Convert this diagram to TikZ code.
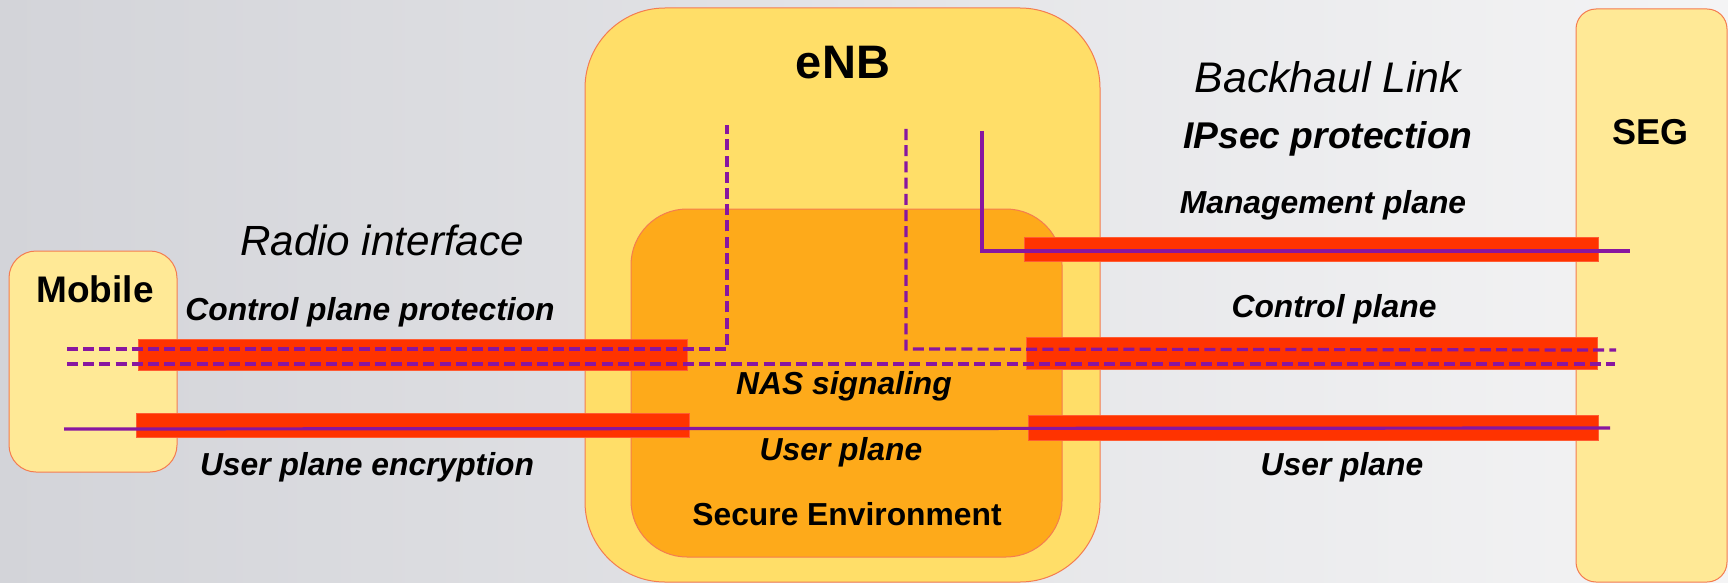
\documentclass[tikz,border=0pt]{standalone}
\usepackage{fontspec}
\setmainfont{Liberation Sans}
\usetikzlibrary{fit}
\definecolor{bgL}{RGB}{211,212,217}
\definecolor{bgR}{RGB}{244,244,245}
\definecolor{enbfill}{RGB}{255,222,104}
\definecolor{secfill}{RGB}{254,170,26}
\definecolor{endfill}{RGB}{255,233,150}
\definecolor{edgeorange}{RGB}{244,124,80}
\definecolor{barred}{RGB}{255,51,0}
\definecolor{sigpurple}{RGB}{136,22,160}
\tikzset{
  boxshape/.style={draw=edgeorange, line width=0.5pt, inner sep=0pt, outer sep=0pt},
  barshape/.style={fill=barred, draw=barred!80!white, line width=0.3pt, inner sep=0pt, outer sep=0pt},
  pline/.style={draw=sigpurple, line width=1.6pt},
  pdash/.style={draw=sigpurple, line width=1.6pt, dash pattern=on 5.5pt off 2.6pt},
  lbl/.style={font=\fontsize{15.9}{19}\selectfont\bfseries\itshape, inner sep=0pt},
}
\begin{document}
\begin{tikzpicture}[x=0.5pt,y=-0.5pt]
\useasboundingbox (0,0) rectangle (1728,583);
\shade[left color=bgL,right color=bgR] (0,0) rectangle (1728,583);

% boxes
\node[boxshape, fill=enbfill, rounded corners=40pt, fit={(585,8) (1100,582)}] (enb) {};
\node[boxshape, fill=secfill, rounded corners=28pt, fit={(631,209) (1062,557)}] (sec) {};
\node[boxshape, fill=endfill, rounded corners=13.5pt, fit={(9,251) (177,472)}] (mobile) {};
\node[boxshape, fill=endfill, rounded corners=10pt, fit={(1576,9) (1727,582)}] (seg) {};

% red protection bars
\node[barshape, fit={(138,339) (687,370)}] (lcbar) {};
\node[barshape, fit={(136,413) (689,437)}] (lubar) {};
\node[barshape, fit={(1024,237) (1598,261)}] (rmbar) {};
\node[barshape, fit={(1026,337) (1597,369)}] (rcbar) {};
\node[barshape, fit={(1028,415) (1598,440)}] (rubar) {};

% signal path points
\coordinate (c1a) at (67,349);
\coordinate (c1b) at (727,349);
\coordinate (c1c) at (727,125);
\coordinate (c2a) at (67,364);
\coordinate (c2b) at (1615,364);
\coordinate (c3a) at (906,129);
\coordinate (c3b) at (906,349);
\coordinate (c3c) at (1616,350);
\coordinate (m1) at (982,131);
\coordinate (m2) at (982,251);
\coordinate (m3) at (1630,251);
\coordinate (u1) at (64,429);
\coordinate (u2) at (1610,428);

\draw[pdash] (c1a) -- (c1b) -- (c1c);
\draw[pdash] (c2a) -- (c2b);
\draw[pdash] (c3a) -- (c3b) -- (c3c);
\draw[pline] (m1) -- (m2) -- (m3);
\draw[pline] (u1) -- (u2);

% texts
\node[font=\fontsize{23.5}{28}\selectfont\bfseries, inner sep=0pt] (tenb) at (843,63) {eNB};
\node[font=\fontsize{18.5}{22}\selectfont\bfseries, inner sep=0pt] (tmob) at (95,289) {Mobile};
\node[font=\fontsize{18}{22}\selectfont\bfseries, inner sep=0pt] (tseg) at (1650,132) {SEG};
\node[font=\fontsize{21.1}{25}\selectfont\itshape, inner sep=0pt] (tradio) at (382,240) {Radio interface};
\node[font=\fontsize{21.4}{25}\selectfont\itshape, inner sep=0pt] (tback) at (1328,77) {Backhaul Link};
\node[font=\fontsize{18.6}{22}\selectfont\bfseries\itshape, inner sep=0pt] (tipsec) at (1328,139) {IPsec protection};
\node[lbl] (tmgmt) at (1323,205) {Management plane};
\node[lbl] (tcp) at (1334,309) {Control plane};
\node[lbl] (tcpp) at (370,312) {Control plane protection};
\node[lbl] (tupe) at (367,467) {User plane encryption};
\node[lbl] (tupr) at (1342,467) {User plane};
\node[lbl] (tupm) at (841,452) {User plane};
\node[lbl] (tnas) at (844,386) {NAS signaling};
\node[font=\fontsize{15.9}{19}\selectfont\bfseries, inner sep=0pt] (tsec) at (847,514) {Secure Environment};
\end{tikzpicture}
\end{document}
